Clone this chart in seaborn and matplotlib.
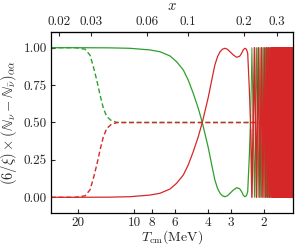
import numpy as np
import pandas as pd
import matplotlib
matplotlib.use("Agg")
import matplotlib.pyplot as plt
import matplotlib.ticker as mticker
import seaborn as sns

# ---- data ----
T_smooth = [28.1, 20.0, 13.49, 10.53, 8.21, 7.25, 6.41, 5.90, 5.43, 5.11, 4.80, 4.51,
            4.29, 3.98, 3.82, 3.67, 3.55, 3.44, 3.34, 3.24, 3.14, 3.04, 2.92, 2.80, 2.70,
            2.63, 2.58, 2.53, 2.48, 2.44, 2.39, 2.35]
red_smooth = [0.0, 0.0, 0.001, 0.004, 0.015, 0.027, 0.055, 0.094, 0.149, 0.216, 0.305, 0.405,
              0.5, 0.67, 0.78, 0.884, 0.94, 0.973, 0.99, 0.996, 0.99, 0.973, 0.952, 0.936, 0.942,
              0.963, 0.985, 0.996, 0.99, 0.963, 0.717, 0.45]
green_smooth = [1.0, 1.0, 0.999, 0.996, 0.985, 0.973, 0.945, 0.906, 0.851, 0.784, 0.695, 0.595,
                0.5, 0.33, 0.22, 0.116, 0.06, 0.027, 0.01, 0.004, 0.01, 0.027, 0.048, 0.064, 0.058,
                0.037, 0.015, 0.004, 0.01, 0.037, 0.283, 0.55]

osc_T = [2.316, 2.244, 2.190, 2.141, 2.096, 2.057, 2.020, 1.988, 1.958, 1.932, 1.908, 1.887,
         1.866, 1.847, 1.829, 1.811, 1.795, 1.780, 1.764, 1.749, 1.736, 1.723, 1.710, 1.697,
         1.685, 1.674, 1.664, 1.654, 1.643, 1.633, 1.623, 1.615, 1.607, 1.600, 1.592, 1.584,
         1.576, 1.568, 1.561, 1.553, 1.545, 1.537, 1.530, 1.522, 1.515, 1.507, 1.500, 1.493,
         1.485, 1.478, 1.470, 1.463, 1.456, 1.449, 1.442, 1.434, 1.427, 1.420, 1.413, 1.406,
         1.399, 1.392]
osc_red = [0, 1, 0, 1, 0, 1, 0, 1, 0, 1, 0, 1, 0, 1, 0, 1, 0, 1, 0, 1, 0, 1, 0, 1, 0, 1, 0, 1,
           0, 1, 0, 1, 0, 1, 0, 1, 0, 1, 0, 1, 0, 1, 0, 1, 0, 1, 0, 1, 0, 1, 0, 1, 0, 1, 0, 1,
           0, 1, 0, 1, 0, 1]
osc_green = [1, 0, 1, 0, 1, 0, 1, 0, 1, 0, 1, 0, 1, 0, 1, 0, 1, 0, 1, 0, 1, 0, 1, 0, 1, 0, 1, 0,
             1, 0, 1, 0, 1, 0, 1, 0, 1, 0, 1, 0, 1, 0, 1, 0, 1, 0, 1, 0, 1, 0, 1, 0, 1, 0, 1, 0,
             1, 0, 1, 0, 1, 0]

T_dash = [28.1, 20.8, 18.40, 17.30, 16.60, 15.92, 15.28, 14.66, 14.06, 13.21, 12.68, 12.4, 1.39]
green_dash = [1.0, 1.0, 0.99, 0.95, 0.873, 0.784, 0.684, 0.595, 0.54, 0.51, 0.505, 0.5, 0.5]
red_dash = [0.0, 0.0, 0.01, 0.05, 0.127, 0.216, 0.316, 0.405, 0.46, 0.49, 0.495, 0.5, 0.5]

bottom_ticks = [20, 10, 8, 6, 4, 3, 2]
bottom_labels = ["20", "10", "8", "6", "4", "3", "2"]
top_ticks = [0.02, 0.03, 0.06, 0.1, 0.2, 0.3]
top_labels = ["0.02", "0.03", "0.06", "0.1", "0.2", "0.3"]
y_ticks = [0.0, 0.25, 0.5, 0.75, 1.0]
y_labels = ["0.00", "0.25", "0.50", "0.75", "1.00"]
M_E = 0.511

GREEN = "#2ca02c"
RED = "#d62728"

sns.set_style("ticks")
plt.rcParams["font.family"] = ["cmr10", "DejaVu Serif"]
plt.rcParams["mathtext.fontset"] = "cm"
plt.rcParams["axes.unicode_minus"] = False

fig, ax = plt.subplots(figsize=(3.02, 2.5), dpi=100)
fig.subplots_adjust(left=51/302, right=293/302, bottom=1-213/250, top=1-32/250)

smooth = pd.DataFrame({"T": T_smooth, "red": red_smooth, "green": green_smooth})
osc = pd.DataFrame({"T": [T_smooth[-1]] + osc_T,
                    "red": [red_smooth[-1]] + osc_red,
                    "green": [green_smooth[-1]] + osc_green})
dashed = pd.DataFrame({"T": T_dash, "red": red_dash, "green": green_dash})

dash = (0, (3.5, 2))
sns.lineplot(data=dashed, x="T", y="green", ax=ax, color=GREEN, lw=1.0, ls=dash, sort=False)
sns.lineplot(data=dashed, x="T", y="red", ax=ax, color=RED, lw=1.0, ls=dash, sort=False)
sns.lineplot(data=smooth, x="T", y="green", ax=ax, color=GREEN, lw=0.9, sort=False)
sns.lineplot(data=osc, x="T", y="green", ax=ax, color=GREEN, lw=0.7, sort=False)
sns.lineplot(data=smooth, x="T", y="red", ax=ax, color=RED, lw=0.9, sort=False)
sns.lineplot(data=osc, x="T", y="red", ax=ax, color=RED, lw=1.1, sort=False)

ax.set_xscale("log")
ax.set_xlim(28.1, 1.39)
ax.set_ylim(-0.105, 1.105)

ax.xaxis.set_major_locator(mticker.FixedLocator(bottom_ticks))
ax.xaxis.set_major_formatter(mticker.FixedFormatter(bottom_labels))
ax.xaxis.set_minor_locator(mticker.NullLocator())
ax.yaxis.set_major_locator(mticker.FixedLocator(y_ticks))
ax.yaxis.set_major_formatter(mticker.FixedFormatter(y_labels))

ax.tick_params(axis="both", which="both", direction="in", length=3, width=0.8,
               labelsize=9.5, top=False, right=True, pad=3)
for s in ax.spines.values():
    s.set_linewidth(0.9)
    s.set_color("black")

def t2x(t):
    t = np.asarray(t, dtype=float)
    with np.errstate(divide="ignore"):
        return M_E / t

secax = ax.secondary_xaxis("top", functions=(t2x, t2x))
secax.xaxis.set_major_locator(mticker.FixedLocator(top_ticks))
secax.xaxis.set_major_formatter(mticker.FixedFormatter(top_labels))
secax.xaxis.set_minor_locator(mticker.NullLocator())
secax.tick_params(axis="x", which="both", direction="in", length=3, width=0.8, labelsize=9.5, pad=3)
secax.set_xlabel("$x$", fontsize=10.5, labelpad=4)

ax.set_xlabel(r"$T_{\rm cm}$(MeV)", fontsize=10)
ax.xaxis.set_label_coords(0.5, -0.085)
ax.set_ylabel(r"$(6/\xi)\times(\mathbb{N}_\nu-\mathbb{N}_{\bar{\nu}})_{\alpha\alpha}$", fontsize=10.5, labelpad=3)

fig.savefig("out.png", dpi=100)
